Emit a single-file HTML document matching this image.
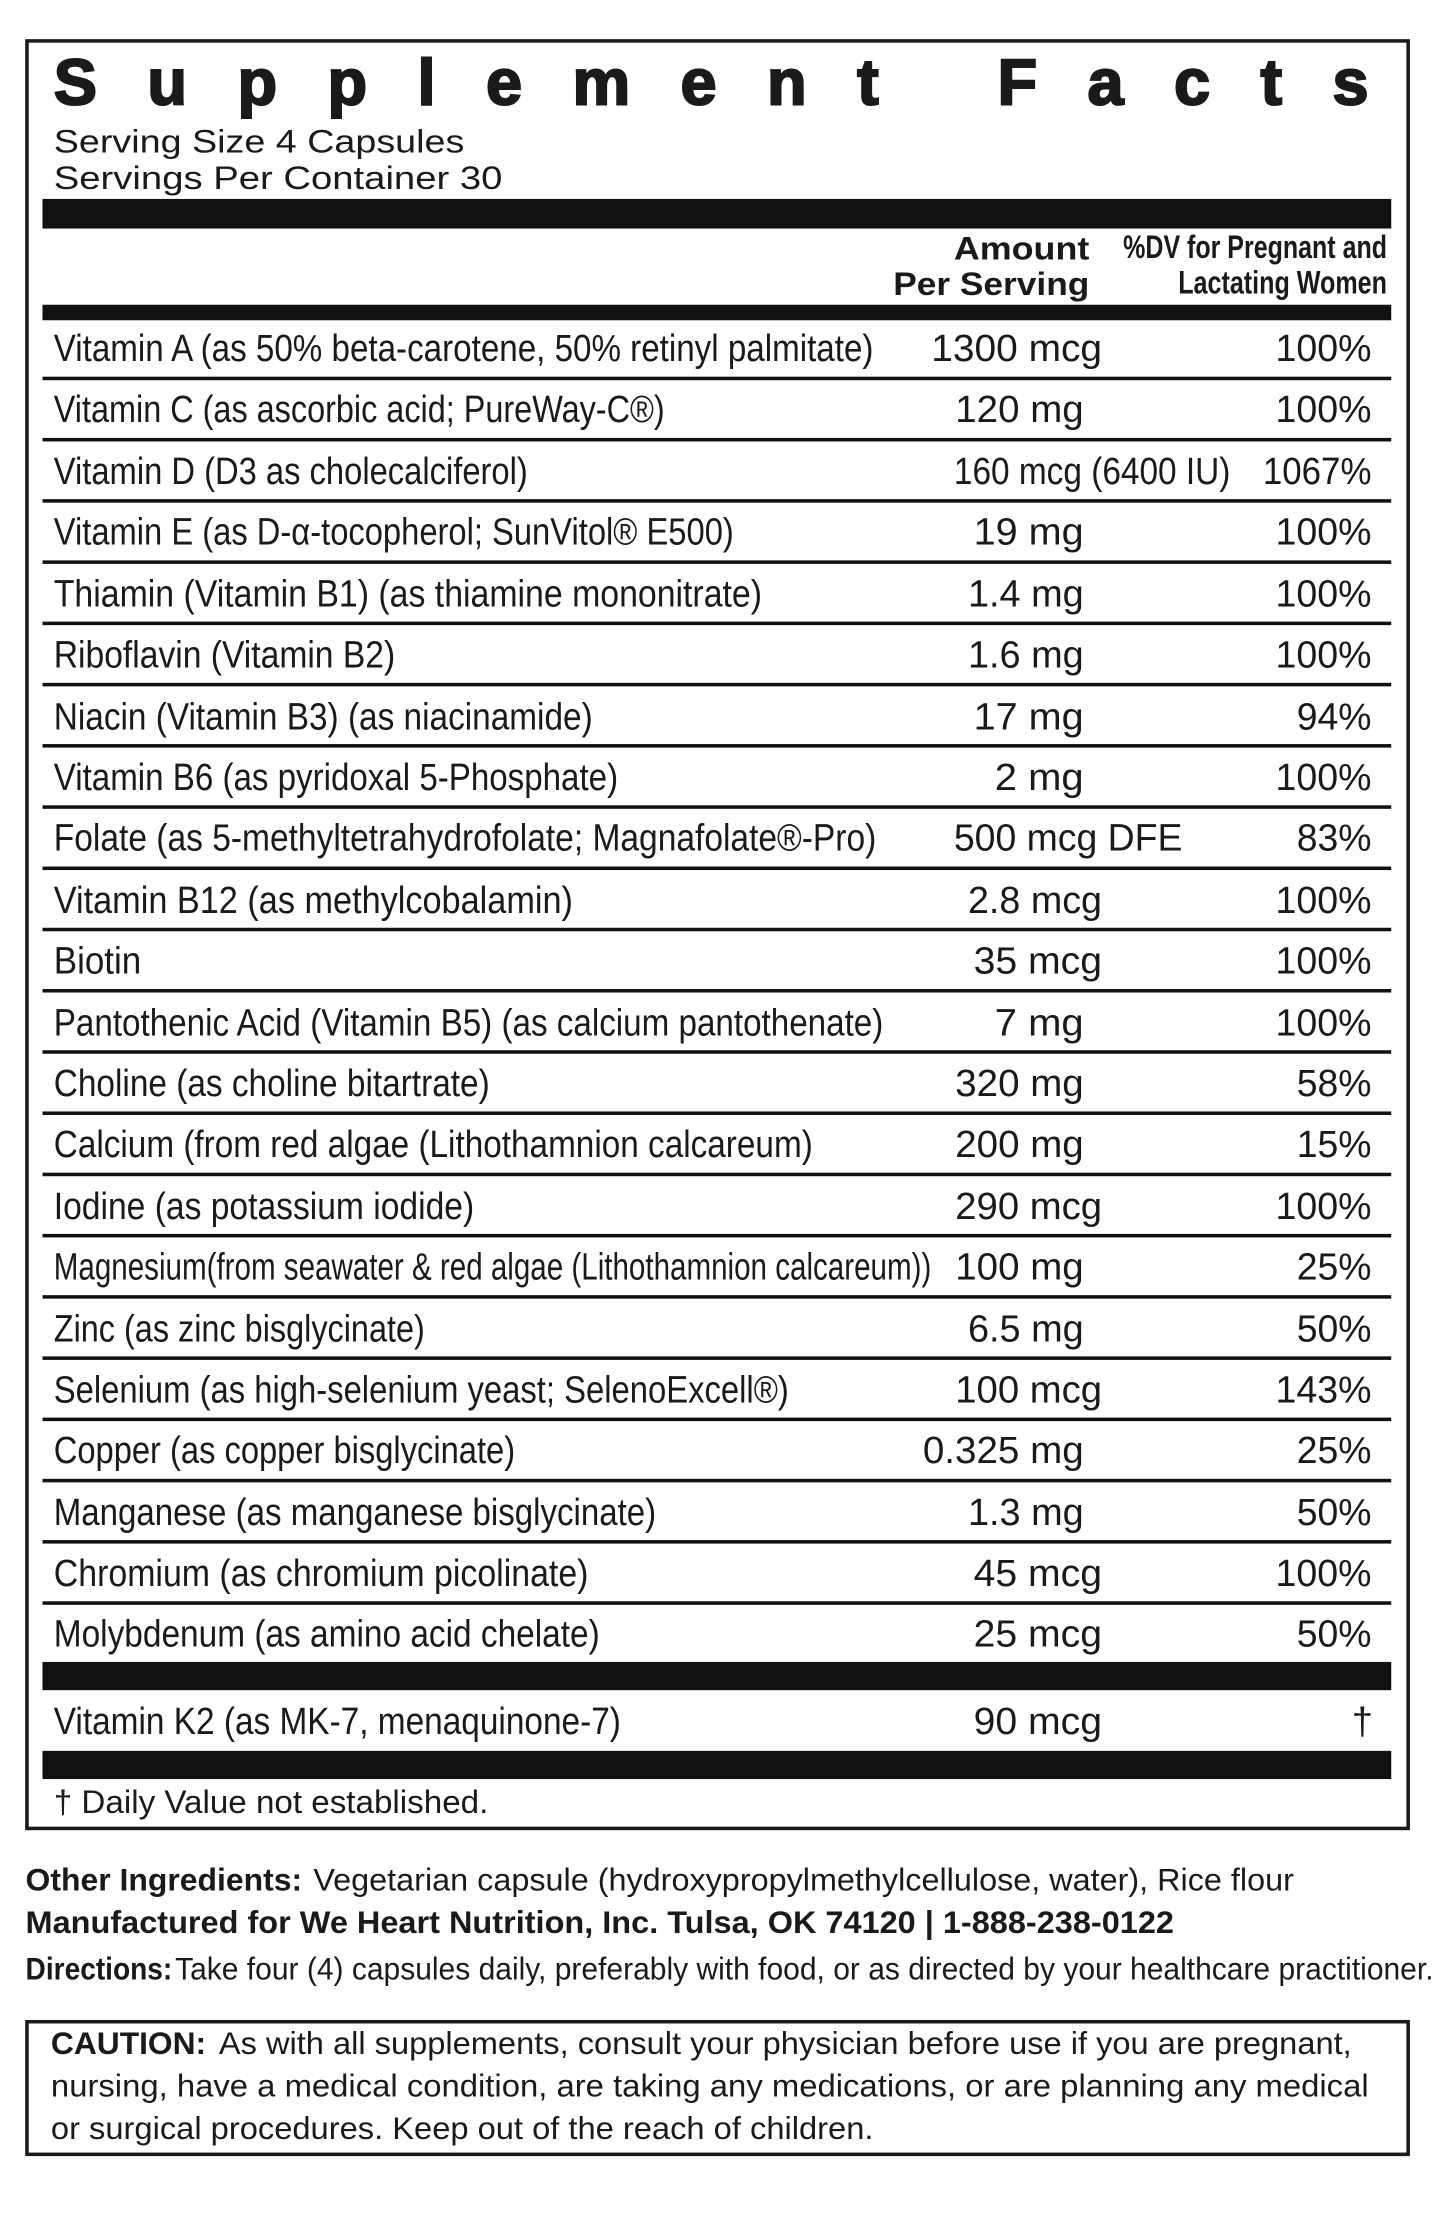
<!DOCTYPE html>
<html><head><meta charset="utf-8"><style>
html,body{margin:0;padding:0;background:#fff;}
svg{display:block;}
text{font-family:"Liberation Sans Narrow","Liberation Sans",sans-serif;fill:#1a1a1a;}
.r{font-size:27px;}
.b{font-weight:bold;}
.t{font-family:"Liberation Sans",sans-serif;font-weight:900;font-size:46px;stroke:#1a1a1a;stroke-width:1.5px;}
.s{font-family:"Liberation Sans",sans-serif;font-size:23px;}
.f{font-size:22px;}
</style></head><body>
<svg width="1445" height="2215" viewBox="0 0 1024 1570" xmlns="http://www.w3.org/2000/svg">
<rect x="0" y="0" width="1024" height="1570" fill="#fff"/>
<rect x="19" y="29" width="979" height="1267" fill="none" stroke="#1a1a1a" stroke-width="2.5"/>
<text class="t" x="38" y="74" textLength="932" lengthAdjust="spacing">Supplement Facts</text>
<text class="s" x="38" y="108" textLength="291" lengthAdjust="spacingAndGlyphs">Serving Size 4 Capsules</text>
<text class="s" x="38" y="134" textLength="318" lengthAdjust="spacingAndGlyphs">Servings Per Container 30</text>
<rect x="30" y="141" width="956" height="21" fill="#111"/>
<text class="r b" x="676" y="184" textLength="96" lengthAdjust="spacingAndGlyphs" style="font-family:'Liberation Sans',sans-serif;font-size:23px">Amount</text>
<text class="r b" x="633" y="209" textLength="139" lengthAdjust="spacingAndGlyphs" style="font-family:'Liberation Sans',sans-serif;font-size:23px">Per Serving</text>
<text class="r b" x="796" y="183" textLength="187" lengthAdjust="spacingAndGlyphs" style="font-size:23px">%DV for Pregnant and</text>
<text class="r b" x="835" y="208" textLength="148" lengthAdjust="spacingAndGlyphs" style="font-size:23px">Lactating Women</text>
<rect x="30" y="216" width="956" height="11" fill="#111"/>
<rect x="30" y="1178" width="956" height="20" fill="#111"/>
<text class="r" x="38" y="1229" textLength="402" lengthAdjust="spacingAndGlyphs">Vitamin K2 (as MK-7, menaquinone-7)</text>
<text class="r" x="690" y="1229" textLength="91" lengthAdjust="spacingAndGlyphs">90 mcg</text>
<text class="r" x="958" y="1229">†</text>
<rect x="30" y="1241" width="956" height="20" fill="#111"/>
<text class="r" x="38" y="1285" textLength="308" lengthAdjust="spacingAndGlyphs" style="font-size:23px">† Daily Value not established.</text>
<text class="f b" x="18" y="1340" textLength="196" lengthAdjust="spacingAndGlyphs">Other Ingredients:</text>
<text class="f" x="222" y="1340" textLength="695" lengthAdjust="spacingAndGlyphs">Vegetarian capsule (hydroxypropylmethylcellulose, water), Rice flour</text>
<text class="f b" x="18" y="1370" textLength="814" lengthAdjust="spacingAndGlyphs">Manufactured for We Heart Nutrition, Inc. Tulsa, OK 74120 | 1-888-238-0122</text>
<text class="f b" x="18" y="1403" textLength="104" lengthAdjust="spacingAndGlyphs">Directions:</text>
<text class="f" x="124" y="1403" textLength="892" lengthAdjust="spacingAndGlyphs">Take four (4) capsules daily, preferably with food, or as directed by your healthcare practitioner.</text>
<rect x="19" y="1433" width="979" height="94" fill="none" stroke="#1a1a1a" stroke-width="2.5"/>
<text class="f b" x="36" y="1456" textLength="110" lengthAdjust="spacingAndGlyphs">CAUTION:</text>
<text class="f" x="155" y="1456" textLength="803" lengthAdjust="spacingAndGlyphs">As with all supplements, consult your physician before use if you are pregnant,</text>
<text class="f" x="36" y="1486" textLength="934" lengthAdjust="spacingAndGlyphs">nursing, have a medical condition, are taking any medications, or are planning any medical</text>
<text class="f" x="36" y="1516" textLength="583" lengthAdjust="spacingAndGlyphs">or surgical procedures. Keep out of the reach of children.</text>

<g>
<text class="r" x="38" y="256" textLength="581" lengthAdjust="spacingAndGlyphs">Vitamin A (as 50% beta-carotene, 50% retinyl palmitate)</text>
<text class="r" x="660" y="256" textLength="121" lengthAdjust="spacingAndGlyphs">1300 mcg</text>
<text class="r" x="972" y="256" text-anchor="end" textLength="68" lengthAdjust="spacingAndGlyphs">100%</text>
<rect x="30" y="267" width="956" height="2.5" fill="#111"/>

<text class="r" x="38" y="299" textLength="433" lengthAdjust="spacingAndGlyphs">Vitamin C  (as ascorbic acid; PureWay-C®)</text>
<text class="r" x="677" y="299" textLength="91" lengthAdjust="spacingAndGlyphs">120 mg</text>
<text class="r" x="972" y="299" text-anchor="end" textLength="68" lengthAdjust="spacingAndGlyphs">100%</text>
<rect x="30" y="310.4" width="956" height="2.5" fill="#111"/>

<text class="r" x="38" y="343" textLength="336" lengthAdjust="spacingAndGlyphs">Vitamin D (D3 as cholecalciferol)</text>
<text class="r" x="676" y="343" textLength="196" lengthAdjust="spacingAndGlyphs">160 mcg (6400 IU)</text>
<text class="r" x="972" y="343" text-anchor="end" textLength="77" lengthAdjust="spacingAndGlyphs">1067%</text>
<rect x="30" y="353.8" width="956" height="2.5" fill="#111"/>

<text class="r" x="38" y="386" textLength="482" lengthAdjust="spacingAndGlyphs">Vitamin E (as D-α-tocopherol; SunVitol® E500)</text>
<text class="r" x="690" y="386" textLength="78" lengthAdjust="spacingAndGlyphs">19 mg</text>
<text class="r" x="972" y="386" text-anchor="end" textLength="68" lengthAdjust="spacingAndGlyphs">100%</text>
<rect x="30" y="397.2" width="956" height="2.5" fill="#111"/>

<text class="r" x="38" y="430" textLength="502" lengthAdjust="spacingAndGlyphs">Thiamin (Vitamin B1) (as thiamine mononitrate)</text>
<text class="r" x="686" y="430" textLength="82" lengthAdjust="spacingAndGlyphs">1.4 mg</text>
<text class="r" x="972" y="430" text-anchor="end" textLength="68" lengthAdjust="spacingAndGlyphs">100%</text>
<rect x="30" y="440.6" width="956" height="2.5" fill="#111"/>

<text class="r" x="38" y="473" textLength="242" lengthAdjust="spacingAndGlyphs">Riboflavin (Vitamin B2)</text>
<text class="r" x="686" y="473" textLength="82" lengthAdjust="spacingAndGlyphs">1.6 mg</text>
<text class="r" x="972" y="473" text-anchor="end" textLength="68" lengthAdjust="spacingAndGlyphs">100%</text>
<rect x="30" y="484" width="956" height="2.5" fill="#111"/>

<text class="r" x="38" y="517" textLength="382" lengthAdjust="spacingAndGlyphs">Niacin (Vitamin B3) (as niacinamide)</text>
<text class="r" x="690" y="517" textLength="78" lengthAdjust="spacingAndGlyphs">17 mg</text>
<text class="r" x="972" y="517" text-anchor="end" textLength="53" lengthAdjust="spacingAndGlyphs">94%</text>
<rect x="30" y="527.4" width="956" height="2.5" fill="#111"/>

<text class="r" x="38" y="560" textLength="400" lengthAdjust="spacingAndGlyphs">Vitamin B6 (as pyridoxal 5-Phosphate)</text>
<text class="r" x="705" y="560" textLength="63" lengthAdjust="spacingAndGlyphs">2 mg</text>
<text class="r" x="972" y="560" text-anchor="end" textLength="68" lengthAdjust="spacingAndGlyphs">100%</text>
<rect x="30" y="570.8" width="956" height="2.5" fill="#111"/>

<text class="r" x="38" y="603" textLength="583" lengthAdjust="spacingAndGlyphs">Folate  (as 5-methyltetrahydrofolate; Magnafolate®-Pro)</text>
<text class="r" x="676" y="603" textLength="162" lengthAdjust="spacingAndGlyphs">500 mcg DFE</text>
<text class="r" x="972" y="603" text-anchor="end" textLength="53" lengthAdjust="spacingAndGlyphs">83%</text>
<rect x="30" y="614.2" width="956" height="2.5" fill="#111"/>

<text class="r" x="38" y="647" textLength="368" lengthAdjust="spacingAndGlyphs">Vitamin B12  (as methylcobalamin)</text>
<text class="r" x="686" y="647" textLength="95" lengthAdjust="spacingAndGlyphs">2.8 mcg</text>
<text class="r" x="972" y="647" text-anchor="end" textLength="68" lengthAdjust="spacingAndGlyphs">100%</text>
<rect x="30" y="657.6" width="956" height="2.5" fill="#111"/>

<text class="r" x="38" y="690" textLength="62" lengthAdjust="spacingAndGlyphs">Biotin</text>
<text class="r" x="690" y="690" textLength="91" lengthAdjust="spacingAndGlyphs">35 mcg</text>
<text class="r" x="972" y="690" text-anchor="end" textLength="68" lengthAdjust="spacingAndGlyphs">100%</text>
<rect x="30" y="701" width="956" height="2.5" fill="#111"/>

<text class="r" x="38" y="734" textLength="588" lengthAdjust="spacingAndGlyphs">Pantothenic Acid (Vitamin B5) (as calcium pantothenate)</text>
<text class="r" x="705" y="734" textLength="63" lengthAdjust="spacingAndGlyphs">7 mg</text>
<text class="r" x="972" y="734" text-anchor="end" textLength="68" lengthAdjust="spacingAndGlyphs">100%</text>
<rect x="30" y="744.4" width="956" height="2.5" fill="#111"/>

<text class="r" x="38" y="777" textLength="309" lengthAdjust="spacingAndGlyphs">Choline (as choline bitartrate)</text>
<text class="r" x="677" y="777" textLength="91" lengthAdjust="spacingAndGlyphs">320 mg</text>
<text class="r" x="972" y="777" text-anchor="end" textLength="53" lengthAdjust="spacingAndGlyphs">58%</text>
<rect x="30" y="787.8" width="956" height="2.5" fill="#111"/>

<text class="r" x="38" y="820" textLength="538" lengthAdjust="spacingAndGlyphs">Calcium (from red algae (Lithothamnion calcareum)</text>
<text class="r" x="677" y="820" textLength="91" lengthAdjust="spacingAndGlyphs">200 mg</text>
<text class="r" x="972" y="820" text-anchor="end" textLength="53" lengthAdjust="spacingAndGlyphs">15%</text>
<rect x="30" y="831.2" width="956" height="2.5" fill="#111"/>

<text class="r" x="38" y="864" textLength="298" lengthAdjust="spacingAndGlyphs">Iodine (as potassium iodide)</text>
<text class="r" x="677" y="864" textLength="104" lengthAdjust="spacingAndGlyphs">290 mcg</text>
<text class="r" x="972" y="864" text-anchor="end" textLength="68" lengthAdjust="spacingAndGlyphs">100%</text>
<rect x="30" y="874.6" width="956" height="2.5" fill="#111"/>

<text class="r" x="38" y="907" textLength="622" lengthAdjust="spacingAndGlyphs">Magnesium(from seawater &amp; red algae (Lithothamnion calcareum))</text>
<text class="r" x="677" y="907" textLength="91" lengthAdjust="spacingAndGlyphs">100 mg</text>
<text class="r" x="972" y="907" text-anchor="end" textLength="53" lengthAdjust="spacingAndGlyphs">25%</text>
<rect x="30" y="918" width="956" height="2.5" fill="#111"/>

<text class="r" x="38" y="951" textLength="263" lengthAdjust="spacingAndGlyphs">Zinc (as zinc bisglycinate)</text>
<text class="r" x="686" y="951" textLength="82" lengthAdjust="spacingAndGlyphs">6.5 mg</text>
<text class="r" x="972" y="951" text-anchor="end" textLength="53" lengthAdjust="spacingAndGlyphs">50%</text>
<rect x="30" y="961.4" width="956" height="2.5" fill="#111"/>

<text class="r" x="38" y="994" textLength="521" lengthAdjust="spacingAndGlyphs">Selenium (as high-selenium yeast; SelenoExcell®)</text>
<text class="r" x="677" y="994" textLength="104" lengthAdjust="spacingAndGlyphs">100 mcg</text>
<text class="r" x="972" y="994" text-anchor="end" textLength="68" lengthAdjust="spacingAndGlyphs">143%</text>
<rect x="30" y="1004.8" width="956" height="2.5" fill="#111"/>

<text class="r" x="38" y="1037" textLength="327" lengthAdjust="spacingAndGlyphs">Copper (as copper bisglycinate)</text>
<text class="r" x="654" y="1037" textLength="114" lengthAdjust="spacingAndGlyphs">0.325 mg</text>
<text class="r" x="972" y="1037" text-anchor="end" textLength="53" lengthAdjust="spacingAndGlyphs">25%</text>
<rect x="30" y="1048.2" width="956" height="2.5" fill="#111"/>

<text class="r" x="38" y="1081" textLength="427" lengthAdjust="spacingAndGlyphs">Manganese (as manganese bisglycinate)</text>
<text class="r" x="686" y="1081" textLength="82" lengthAdjust="spacingAndGlyphs">1.3 mg</text>
<text class="r" x="972" y="1081" text-anchor="end" textLength="53" lengthAdjust="spacingAndGlyphs">50%</text>
<rect x="30" y="1091.6" width="956" height="2.5" fill="#111"/>

<text class="r" x="38" y="1124" textLength="379" lengthAdjust="spacingAndGlyphs">Chromium (as chromium picolinate)</text>
<text class="r" x="690" y="1124" textLength="91" lengthAdjust="spacingAndGlyphs">45 mcg</text>
<text class="r" x="972" y="1124" text-anchor="end" textLength="68" lengthAdjust="spacingAndGlyphs">100%</text>
<rect x="30" y="1135" width="956" height="2.5" fill="#111"/>

<text class="r" x="38" y="1167" textLength="387" lengthAdjust="spacingAndGlyphs">Molybdenum (as amino acid chelate)</text>
<text class="r" x="690" y="1167" textLength="91" lengthAdjust="spacingAndGlyphs">25 mcg</text>
<text class="r" x="972" y="1167" text-anchor="end" textLength="53" lengthAdjust="spacingAndGlyphs">50%</text>
</g>
</svg>
</body></html>
